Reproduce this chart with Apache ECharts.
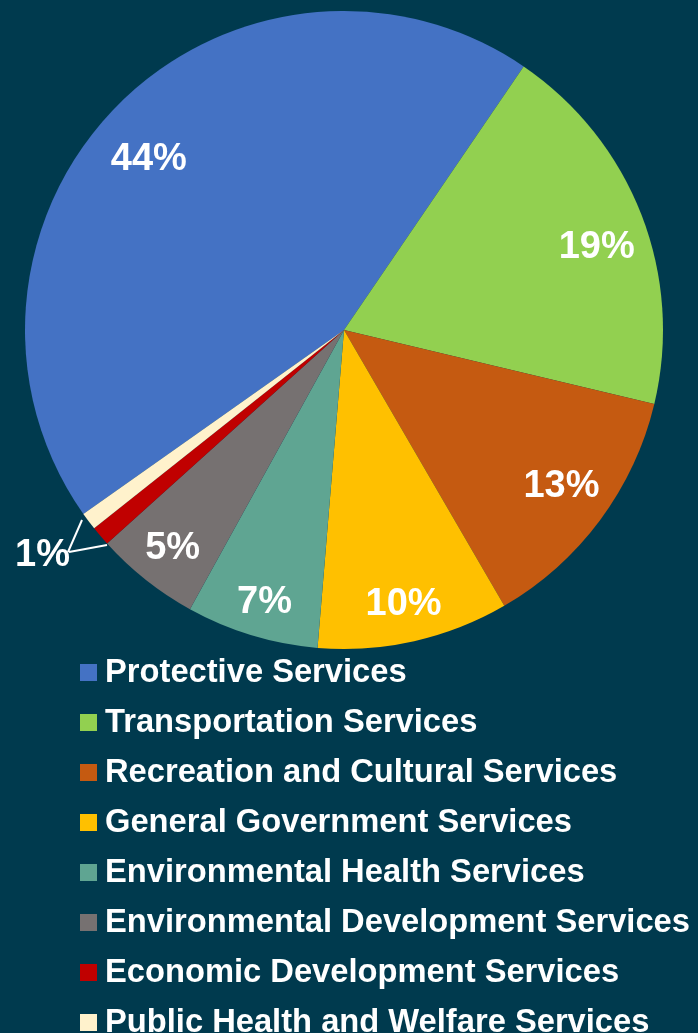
<!DOCTYPE html>
<html>
<head>
<meta charset="utf-8">
<script src="https://cdn.jsdelivr.net/npm/echarts@6/dist/echarts.min.js"></script>
<style>
html,body{margin:0;padding:0;background:#003A4E;}
#c{width:698px;height:1033px;}
</style>
</head>
<body>
<div id="c"></div>
<script>
const categories = [
  'Protective Services',
  'Transportation Services',
  'Recreation and Cultural Services',
  'General Government Services',
  'Environmental Health Services',
  'Environmental Development Services',
  'Economic Development Services',
  'Public Health and Welfare Services'
];
const shares = [44.3, 19.2, 12.9, 9.7, 6.7, 5.3, 1.0, 0.9];
const colors = ['#4472C4', '#92D050', '#C55A11', '#FFC000', '#5FA592', '#767171', '#C00000', '#FFF2CC'];

const FONT = '"Liberation Sans", Arial, sans-serif';
const chart = echarts.init(document.getElementById('c'), null, {renderer: 'canvas'});

const mainData = categories.map((n, i) => ({name: n, value: shares[i], itemStyle: {color: colors[i]}}));
const smallIdx = [6, 7];
const labelData = categories.map((n, i) => {
  const o = {name: n, value: shares[i]};
  if (smallIdx.includes(i)) {
    o.label = {show: true, position: 'outside'};
    o.labelLine = {show: true, lineStyle: {color: '#FFFFFF', width: 2}};
  }
  return o;
});

// fine label nudges (layout only)
const nudgeX = [-2, 0, 0, 0, -1, -3];
const nudgeY = [20, 15, -5, 10, 13, 6];

chart.setOption({
  backgroundColor: '#003A4E',
  animation: false,
  legend: {
    orient: 'vertical',
    left: 80,
    top: 656,
    height: 420,
    padding: 0,
    itemWidth: 17,
    itemHeight: 17,
    itemGap: 17,
    icon: 'rect',
    selectedMode: false,
    data: categories.map((n, i) => ({name: n, itemStyle: {color: colors[i]}})),
    textStyle: {color: '#FFFFFF', fontSize: 32.7, fontWeight: 'bold', fontFamily: FONT, padding: [0, 0, 0, 3]}
  },
  series: [
    {
      type: 'pie',
      center: [344, 330],
      radius: [0, 319],
      startAngle: 215.2,
      clockwise: true,
      silent: true,
      label: {show: false},
      labelLine: {show: false},
      itemStyle: {borderWidth: 0},
      data: mainData
    },
    {
      type: 'pie',
      center: [344, 330],
      radius: [217, 319],
      startAngle: 215.2,
      clockwise: true,
      silent: true,
      avoidLabelOverlap: false,
      itemStyle: {color: 'rgba(0,0,0,0)', borderWidth: 0},
      label: {
        show: true,
        position: 'inside',
        color: '#FFFFFF',
        fontSize: 38,
        fontWeight: 'bold',
        fontFamily: FONT,
        formatter: p => (p.dataIndex === 6 ? ' ' : Math.round(p.percent) + '%')
      },
      labelLine: {show: false},
      labelLayout: function (p) {
        if (p.dataIndex === 7) {
          return {x: 70, y: 556, align: 'right', verticalAlign: 'middle',
            labelLinePoints: [[82, 520], [68, 552], [68, 552]]};
        }
        if (p.dataIndex === 6) {
          return {x: 70, y: 556, align: 'right', verticalAlign: 'middle',
            labelLinePoints: [[107, 545], [69, 552], [69, 552]]};
        }
        return {dx: nudgeX[p.dataIndex], dy: nudgeY[p.dataIndex]};
      },
      data: labelData
    }
  ]
});
</script>
</body>
</html>
